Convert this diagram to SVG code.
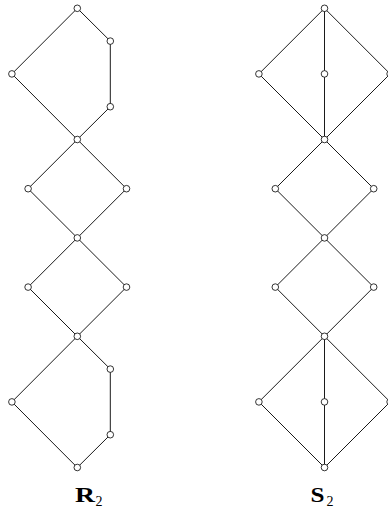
<svg xmlns="http://www.w3.org/2000/svg" width="388" height="513" viewBox="0 0 388 513">
<style>
.e{stroke:#000;stroke-width:0.9;fill:none}
.n{fill:#fff;stroke:#000;stroke-width:0.8}
.lbl{font-family:"Liberation Serif",serif;fill:#000}
.big{font-weight:bold;font-size:21px}
.sub{font-size:14px}
</style>
<rect width="388" height="513" fill="#fff"/>
<g id="edges" class="e">
<path d="M77.3,8.3 L110.3,41.1 L110.3,106.7 L77.3,139.5 L11.9,73.9 Z"/>
<path d="M77.3,139.5 L126.5,188.7 L77.3,237.9 L28.1,188.7 Z"/>
<path d="M77.3,237.9 L126.5,287.1 L77.3,336.3 L28.1,287.1 Z"/>
<path d="M77.3,336.3 L110.3,369.1 L110.3,434.7 L77.3,467.5 L11.9,401.9 Z"/>
<path d="M324.5,8.3 L390.1,73.9 L324.5,139.5 L258.9,73.9 Z M324.5,8.3 L324.5,139.5"/>
<path d="M324.5,139.5 L373.7,188.7 L324.5,237.9 L275.3,188.7 Z"/>
<path d="M324.5,237.9 L373.7,287.1 L324.5,336.3 L275.3,287.1 Z"/>
<path d="M324.5,336.3 L390.1,401.9 L324.5,467.5 L258.9,401.9 Z M324.5,336.3 L324.5,467.5"/>
</g>
<g id="R2" class="n">
<circle id="r1" cx="77.3" cy="8.3" r="3.3"/>
<circle id="r2" cx="110.3" cy="41.1" r="3.3"/>
<circle id="r3" cx="11.9" cy="73.9" r="3.3"/>
<circle id="r4" cx="110.3" cy="106.7" r="3.3"/>
<circle id="r5" cx="77.3" cy="139.5" r="3.3"/>
<circle id="r6" cx="28.1" cy="188.7" r="3.3"/>
<circle id="r7" cx="126.5" cy="188.7" r="3.3"/>
<circle id="r8" cx="77.3" cy="237.9" r="3.3"/>
<circle id="r9" cx="28.1" cy="287.1" r="3.3"/>
<circle id="r10" cx="126.5" cy="287.1" r="3.3"/>
<circle id="r11" cx="77.3" cy="336.3" r="3.3"/>
<circle id="r12" cx="110.3" cy="369.1" r="3.3"/>
<circle id="r13" cx="11.9" cy="401.9" r="3.3"/>
<circle id="r14" cx="110.3" cy="434.7" r="3.3"/>
<circle id="r15" cx="77.3" cy="467.5" r="3.3"/>
</g>
<g id="S2" class="n">
<circle id="s1" cx="324.5" cy="8.3" r="3.3"/>
<circle id="s2" cx="258.9" cy="73.9" r="3.3"/>
<circle id="s3" cx="324.5" cy="73.9" r="3.3"/>
<circle id="s4" cx="390.1" cy="73.9" r="3.3"/>
<circle id="s5" cx="324.5" cy="139.5" r="3.3"/>
<circle id="s6" cx="275.3" cy="188.7" r="3.3"/>
<circle id="s7" cx="373.7" cy="188.7" r="3.3"/>
<circle id="s8" cx="324.5" cy="237.9" r="3.3"/>
<circle id="s9" cx="275.3" cy="287.1" r="3.3"/>
<circle id="s10" cx="373.7" cy="287.1" r="3.3"/>
<circle id="s11" cx="324.5" cy="336.3" r="3.3"/>
<circle id="s12" cx="258.9" cy="401.9" r="3.3"/>
<circle id="s13" cx="324.5" cy="401.9" r="3.3"/>
<circle id="s14" cx="390.1" cy="401.9" r="3.3"/>
<circle id="s15" cx="324.5" cy="467.5" r="3.3"/>
</g>
<g id="labels" class="lbl">
<text class="big" x="75" y="502" textLength="20" lengthAdjust="spacingAndGlyphs">R</text>
<text class="sub" x="95.5" y="506">2</text>
<text class="big" x="310.5" y="502" textLength="14" lengthAdjust="spacingAndGlyphs">S</text>
<text class="sub" x="326.5" y="506">2</text>
</g>
</svg>
